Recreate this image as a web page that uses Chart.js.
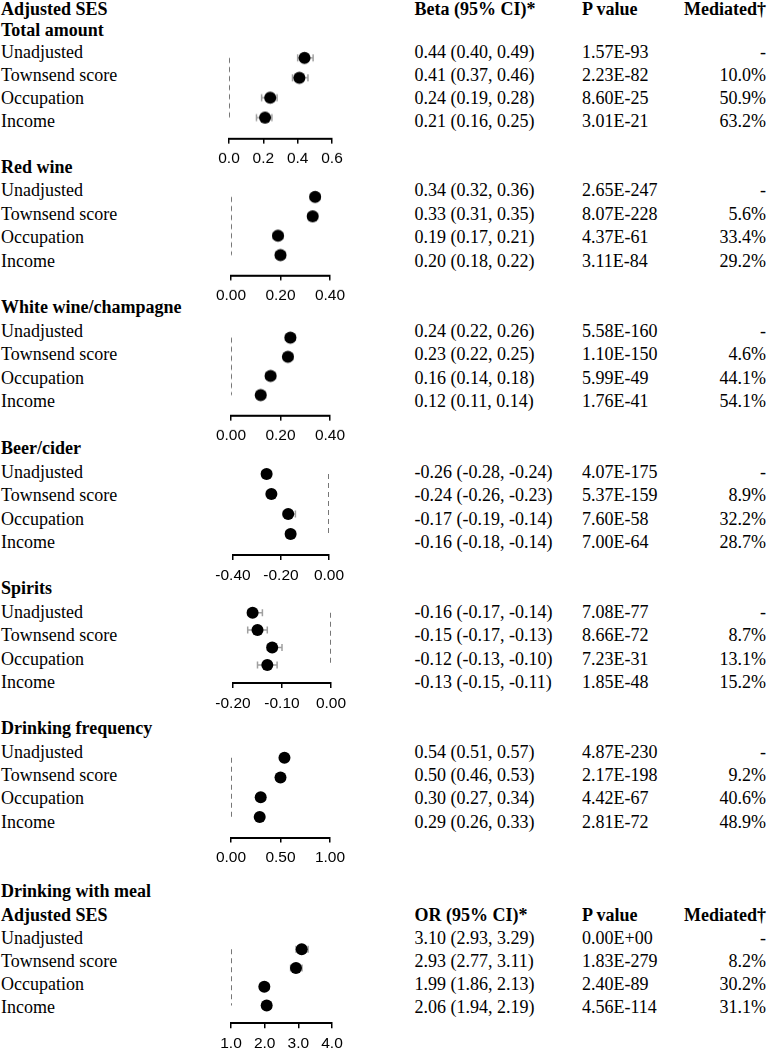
<!DOCTYPE html>
<html>
<head>
<meta charset="utf-8">
<script src="https://cdn.jsdelivr.net/npm/chart.js@4.4.1/dist/chart.umd.min.js"></script>
<style>
  html, body { margin: 0; padding: 0; background: #fff; }
  #page { position: relative; width: 767px; height: 1050px; overflow: hidden;
          font-family: "Liberation Serif", "Times New Roman", serif; font-size: 18px; color: #000; }
  .t { position: absolute; line-height: 18px; height: 18px; white-space: nowrap; }
  .b { font-weight: bold; }
  .plot { position: absolute; }
</style>
</head>
<body>
<div id="page"></div>
<script>
// Data
const outcomes = ["Total amount", "Red wine", "White wine/champagne", "Beer/cider",
                  "Spirits", "Drinking frequency", "Drinking with meal"];
const adjustments = ["Unadjusted", "Townsend score", "Occupation", "Income"];

const estimate = [
  [0.44, 0.41, 0.24, 0.21],
  [0.34, 0.33, 0.19, 0.20],
  [0.24, 0.23, 0.16, 0.12],
  [-0.26, -0.24, -0.17, -0.16],
  [-0.16, -0.15, -0.12, -0.13],
  [0.54, 0.50, 0.30, 0.29],
  [3.10, 2.93, 1.99, 2.06]
];
const lower = [
  [0.40, 0.37, 0.19, 0.16],
  [0.32, 0.31, 0.17, 0.18],
  [0.22, 0.22, 0.14, 0.11],
  [-0.28, -0.26, -0.19, -0.18],
  [-0.17, -0.17, -0.13, -0.15],
  [0.51, 0.46, 0.27, 0.26],
  [2.93, 2.77, 1.86, 1.94]
];
const upper = [
  [0.49, 0.46, 0.28, 0.25],
  [0.36, 0.35, 0.21, 0.22],
  [0.26, 0.25, 0.18, 0.14],
  [-0.24, -0.23, -0.14, -0.14],
  [-0.14, -0.13, -0.10, -0.11],
  [0.57, 0.53, 0.34, 0.33],
  [3.29, 3.11, 2.13, 2.19]
];
const pValues = [
  ["1.57E-93", "2.23E-82", "8.60E-25", "3.01E-21"],
  ["2.65E-247", "8.07E-228", "4.37E-61", "3.11E-84"],
  ["5.58E-160", "1.10E-150", "5.99E-49", "1.76E-41"],
  ["4.07E-175", "5.37E-159", "7.60E-58", "7.00E-64"],
  ["7.08E-77", "8.66E-72", "7.23E-31", "1.85E-48"],
  ["4.87E-230", "2.17E-198", "4.42E-67", "2.81E-72"],
  ["0.00E+00", "1.83E-279", "2.40E-89", "4.56E-114"]
];
const mediated = [
  ["-", "10.0%", "50.9%", "63.2%"],
  ["-", "5.6%", "33.4%", "29.2%"],
  ["-", "4.6%", "44.1%", "54.1%"],
  ["-", "8.9%", "32.2%", "28.7%"],
  ["-", "8.7%", "13.1%", "15.2%"],
  ["-", "9.2%", "40.6%", "48.9%"],
  ["-", "8.2%", "30.2%", "31.1%"]
];
const refValue = [0, 0, 0, 0, 0, 0, 1];
const axisTicks = [
  [0, 0.2, 0.4, 0.6],
  [0, 0.2, 0.4],
  [0, 0.2, 0.4],
  [-0.4, -0.2, 0],
  [-0.2, -0.1, 0],
  [0, 0.5, 1],
  [1, 2, 3, 4]
];
const tickLabels = [
  ["0.0", "0.2", "0.4", "0.6"],
  ["0.00", "0.20", "0.40"],
  ["0.00", "0.20", "0.40"],
  ["-0.40", "-0.20", "0.00"],
  ["-0.20", "-0.10", "0.00"],
  ["0.00", "0.50", "1.00"],
  ["1.0", "2.0", "3.0", "4.0"]
];

// Page layout (pixels) for each panel
const layout = [
  { headerY: 9, titleY: 30, rowY: 51.5, rowStep: 23.3, axisL: 229, axisR: 332, pointY: 58, pointStep: 19.7, axisY: 138, stat: "Beta (95% CI)*" },
  { titleY: 166.5, rowY: 190, rowStep: 23.5, axisL: 231, axisR: 330, pointY: 197, pointStep: 19.3, axisY: 275 },
  { titleY: 307, rowY: 331, rowStep: 23.4, axisL: 231, axisR: 330, pointY: 337.7, pointStep: 19, axisY: 415 },
  { titleY: 448, rowY: 472, rowStep: 23.3, axisL: 233, axisR: 329, pointY: 474, pointStep: 20, axisY: 555 },
  { titleY: 588, rowY: 612, rowStep: 23.3, axisL: 233, axisR: 331, pointY: 612.7, pointStep: 17.4, axisY: 683 },
  { titleY: 728, rowY: 751.5, rowStep: 23.4, axisL: 231, axisR: 330, pointY: 757.7, pointStep: 19.7, axisY: 837.5 },
  { titleY: 891, headerY: 915, rowY: 937.5, rowStep: 23.3, axisL: 231, axisR: 332, pointY: 949, pointStep: 18.7, axisY: 1023, stat: "OR (95% CI)*" }
];
const colBeta = 414.5, colP = 582, colMedRight = 1;

const page = document.getElementById("page");

function addText(str, y, opts) {
  const el = document.createElement("div");
  el.className = "t" + (opts.bold ? " b" : "");
  el.textContent = str;
  el.style.top = (y - 9) + "px";
  if (opts.right !== undefined) el.style.right = opts.right + "px";
  else el.style.left = opts.left + "px";
  page.appendChild(el);
}

const fmt = v => v.toFixed(2);

// error bars drawn through the chart's own scales
const errorBarPlugin = {
  id: "errorBars",
  beforeDatasetsDraw(chart, args, opts) {
    const k = opts.panel;
    const { ctx } = chart;
    const xs = chart.scales.x, ys = chart.scales.y;
    ctx.save();
    ctx.strokeStyle = "#a0a0a0";
    ctx.lineWidth = 1.5;
    lower[k].forEach((lo, i) => {
      const x0 = xs.getPixelForValue(lo);
      const x1 = xs.getPixelForValue(upper[k][i]);
      const yy = ys.getPixelForValue(i);
      ctx.beginPath();
      ctx.moveTo(x0, yy); ctx.lineTo(x1, yy);
      ctx.moveTo(x0, yy - 3.5); ctx.lineTo(x0, yy + 3.5);
      ctx.moveTo(x1, yy - 3.5); ctx.lineTo(x1, yy + 3.5);
      ctx.stroke();
    });
    ctx.restore();
  }
};

function drawPanel(k) {
  const g = layout[k];
  const padX = 30, padTop = 10, axisH = 32;
  const areaTop = g.pointY - 0.5 * g.pointStep;

  const holder = document.createElement("div");
  holder.className = "plot";
  holder.style.left = (g.axisL - padX) + "px";
  holder.style.top = (areaTop - padTop) + "px";
  holder.style.width = (g.axisR - g.axisL + 2 * padX) + "px";
  holder.style.height = (padTop + (g.axisY - areaTop) + axisH) + "px";
  const canvas = document.createElement("canvas");
  holder.appendChild(canvas);
  page.appendChild(holder);

  const ticks = axisTicks[k];
  new Chart(canvas, {
    type: "scatter",
    data: {
      datasets: [
        {
          data: [{ x: refValue[k], y: 0 }, { x: refValue[k], y: 3 }],
          showLine: true,
          borderColor: "#555",
          borderWidth: 1.6,
          borderDash: [5, 4],
          pointRadius: 0,
          order: 2
        },
        {
          data: estimate[k].map((v, i) => ({ x: v, y: i })),
          pointRadius: 6,
          pointHoverRadius: 6,
          backgroundColor: "#000",
          borderWidth: 0,
          clip: false,
          order: 1
        }
      ]
    },
    options: {
      responsive: true,
      maintainAspectRatio: false,
      animation: false,
      events: [],
      layout: { padding: { left: padX, right: padX, top: padTop, bottom: 0 } },
      plugins: {
        legend: { display: false },
        tooltip: { enabled: false },
        errorBars: { panel: k }
      },
      scales: {
        x: {
          type: "linear",
          min: ticks[0],
          max: ticks[ticks.length - 1],
          afterBuildTicks: s => { s.ticks = ticks.map(v => ({ value: v })); },
          afterFit: s => { s.height = axisH; },
          grid: { drawOnChartArea: false, drawTicks: true, tickLength: 5, color: "#000", lineWidth: 1.5 },
          border: { display: true, color: "#000", width: 2 },
          ticks: {
            padding: 6,
            color: "#000",
            maxRotation: 0,
            autoSkip: false,
            font: { family: '"Liberation Sans", Arial, sans-serif', size: 15.5 },
            callback: (v, i) => tickLabels[k][i]
          }
        },
        y: {
          type: "linear",
          display: false,
          reverse: true,
          min: -0.5,
          max: (g.axisY - g.pointY) / g.pointStep
        }
      }
    },
    plugins: [errorBarPlugin]
  });
}

function addHeader(g) {
  addText("Adjusted SES", g.headerY, { left: 1, bold: true });
  addText(g.stat, g.headerY, { left: colBeta, bold: true });
  addText("P value", g.headerY, { left: colP, bold: true });
  addText("Mediated\u2020", g.headerY, { right: colMedRight, bold: true });
}

outcomes.forEach((name, k) => {
  const g = layout[k];
  if (k === 0) addHeader(g);
  addText(name, g.titleY, { left: 1, bold: true });
  if (k === 6) addHeader(g);
  adjustments.forEach((adj, i) => {
    const y = g.rowY + i * g.rowStep;
    addText(adj, y, { left: 1 });
    addText(fmt(estimate[k][i]) + " (" + fmt(lower[k][i]) + ", " + fmt(upper[k][i]) + ")", y, { left: colBeta });
    addText(pValues[k][i], y, { left: colP });
    addText(mediated[k][i], y, { right: colMedRight });
  });
  drawPanel(k);
});
</script>
</body>
</html>
